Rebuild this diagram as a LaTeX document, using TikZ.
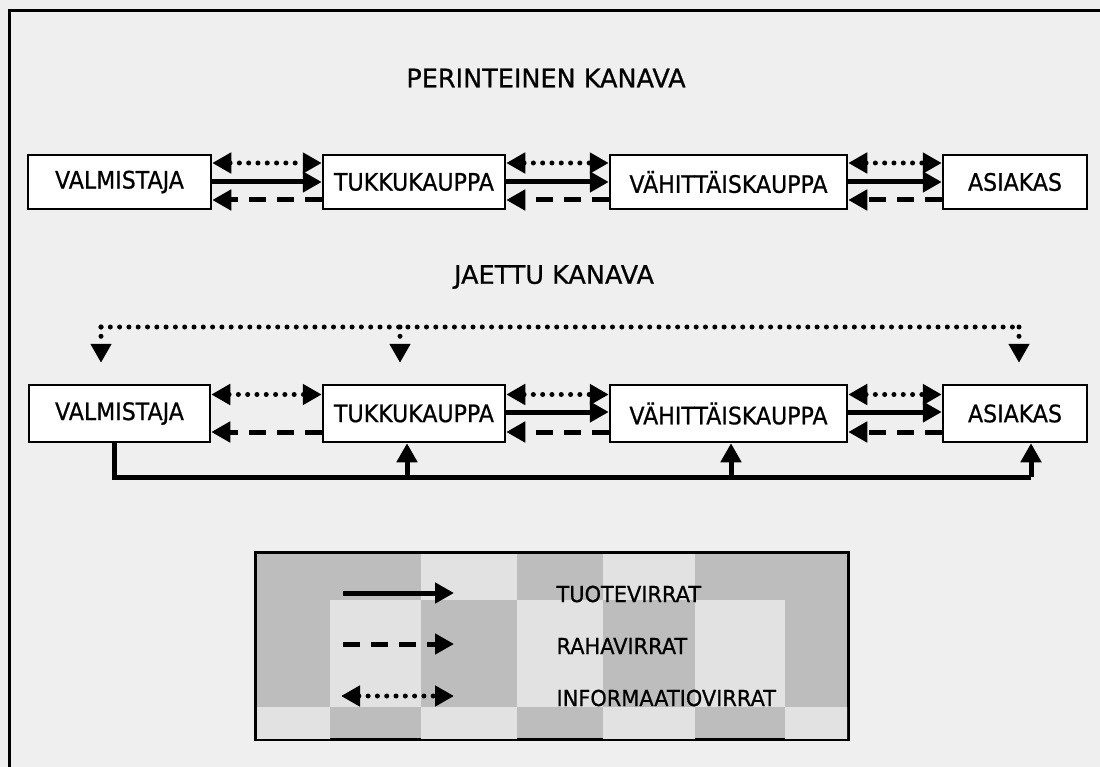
\documentclass[tikz,border=0pt]{standalone}
\usepackage{fontspec}
\setmainfont[FakeBold=0.7]{DejaVu Sans}
\newfontfamily\boxfont[FakeStretch=0.92,FakeBold=0.7]{DejaVu Sans}
\newfontfamily\legfont[FakeStretch=0.95,FakeBold=0.7]{DejaVu Sans}
\usetikzlibrary{arrows.meta}
\definecolor{paper}{HTML}{EFEFEF}
\definecolor{legdark}{HTML}{BDBDBD}
\definecolor{leglight}{HTML}{E2E2E2}
\tikzset{
  box/.style={draw=black, line width=2.5pt, fill=white, inner sep=0pt,
    minimum height=54pt, font=\boxfont\fontsize{24}{28}\selectfont},
  tri/.style={-{Triangle[length=19pt,width=20pt]}},
  tritwo/.style={{Triangle[length=19pt,width=20pt]}-{Triangle[length=19pt,width=20pt]}},
  prodline/.style={line width=5pt, tri},
  moneyline/.style={line width=5pt, dash pattern=on 17pt off 11pt, tri},
  infoline/.style={line width=5pt, line cap=round, dash pattern=on 0pt off 9.3pt},
  infoarrow/.style={infoline, tritwo},
  title/.style={font=\fontsize{25.5}{30}\selectfont},
  legtext/.style={anchor=west, font=\legfont\fontsize{22}{26}\selectfont}
}
\begin{document}
\begin{tikzpicture}[x=1pt, y=-1pt]
\useasboundingbox (0,0) rectangle (1100,767);
\fill[paper] (0,0) rectangle (1100,767);
\draw[line width=3pt] (9,790) -- (9,11) -- (1120,11);

% headings
\node[title] (h1) at (546,78) {PERINTEINEN KANAVA};
\node[title] (h2) at (554,277) {JAETTU KANAVA};

% traditional channel
\node[box, minimum width=183pt] (v1) at (119.5,182) {VALMISTAJA};
\node[box, minimum width=182pt] (t1) at (414,182) {TUKKUKAUPPA};
\node[box, minimum width=237pt] (r1) at (728.5,182) {VÄHITTÄISKAUPPA};
\node[box, minimum width=144pt] (a1) at (1015,182) {ASIAKAS};

\foreach \p/\q in {v1/t1, t1/r1, r1/a1}{
  \draw[infoarrow] ([yshift=19pt]\p.east) -- ([yshift=19pt]\q.west);
  \draw[prodline] (\p.east) -- (\q.west);
  \draw[moneyline] ([yshift=-18pt]\q.west) -- ([yshift=-18pt]\p.east);
}

% shared channel
\node[box, minimum width=181pt, minimum height=57pt] (v2) at (119.5,413.5) {VALMISTAJA};
\node[box, minimum width=182pt, minimum height=57pt] (t2) at (414,413.5) {TUKKUKAUPPA};
\node[box, minimum width=237pt, minimum height=57pt] (r2) at (728.5,413.5) {VÄHITTÄISKAUPPA};
\node[box, minimum width=144pt, minimum height=57pt] (a2) at (1015,413.5) {ASIAKAS};

\draw[infoarrow] ([yshift=19pt]v2.east) -- ([yshift=19pt]t2.west);
\draw[moneyline] ([yshift=-18.5pt]t2.west) -- ([yshift=-18.5pt]v2.east);
\foreach \p/\q in {t2/r2, r2/a2}{
  \draw[infoarrow] ([yshift=19pt]\p.east) -- ([yshift=19pt]\q.west);
  \draw[prodline] ([yshift=1.5pt]\p.east) -- ([yshift=1.5pt]\q.west);
  \draw[moneyline] ([yshift=-18.5pt]\q.west) -- ([yshift=-18.5pt]\p.east);
}

% shared information line above the boxes
\coordinate (iL) at (101,327);
\coordinate (iM) at (400,327);
\coordinate (iR) at (1019,327);
\draw[infoline] (iL) -- (iR);
\foreach \c/\b in {iL/v2, iM/t2, iR/a2}{
  \draw[infoline, tri] (\c) -- ([yshift=21pt]\c |- \b.north);
}

% shared product line below the boxes
\coordinate (bL) at (114,477);
\coordinate (bR) at (1031,477);
\draw[line width=5pt] (bL |- v2.south) -- (bL) -- (bR);
\draw[prodline] (bR) -- (bR |- a2.south);
\coordinate (b2) at (407,477);
\coordinate (b3) at (731,477);
\draw[prodline] (b2) -- (b2 |- t2.south);
\draw[prodline] (b3) -- (b3 |- r2.south);

% legend
\node[draw=black, line width=2pt, fill=legdark, minimum width=592pt, minimum height=186pt, inner sep=0pt] (leg) at (552,646) {};
\begin{scope}
  \clip (257,554) rectangle (847,738);
  \fill[leglight] (330,600) rectangle (421,707);
  \fill[leglight] (421,554) rectangle (517,600);
  \fill[leglight] (517,600) rectangle (603,707);
  \fill[leglight] (603,554) rectangle (695,600);
  \fill[leglight] (695,600) rectangle (785,707);
  \fill[leglight] (256,707) rectangle (330,740);
  \fill[leglight] (421,707) rectangle (517,740);
  \fill[leglight] (603,707) rectangle (695,740);
  \fill[leglight] (785,707) rectangle (848,740);
\end{scope}
\draw[line width=2.5pt] (leg.north west) rectangle (leg.south east);

\coordinate (s1a) at (343,593); \coordinate (s1b) at (454,593);
\coordinate (s2a) at (343,644); \coordinate (s2b) at (454,644);
\coordinate (s3a) at (341,696); \coordinate (s3b) at (454,696);
\draw[prodline] (s1a) -- (s1b);
\draw[moneyline] (s2a) -- (s2b);
\draw[infoarrow] (s3a) -- (s3b);
\node[legtext] (l1) at (553,594) {TUOTEVIRRAT};
\node[legtext] (l2) at (553,646) {RAHAVIRRAT};
\node[legtext] (l3) at (553,698) {INFORMAATIOVIRRAT};
\end{tikzpicture}
\end{document}
